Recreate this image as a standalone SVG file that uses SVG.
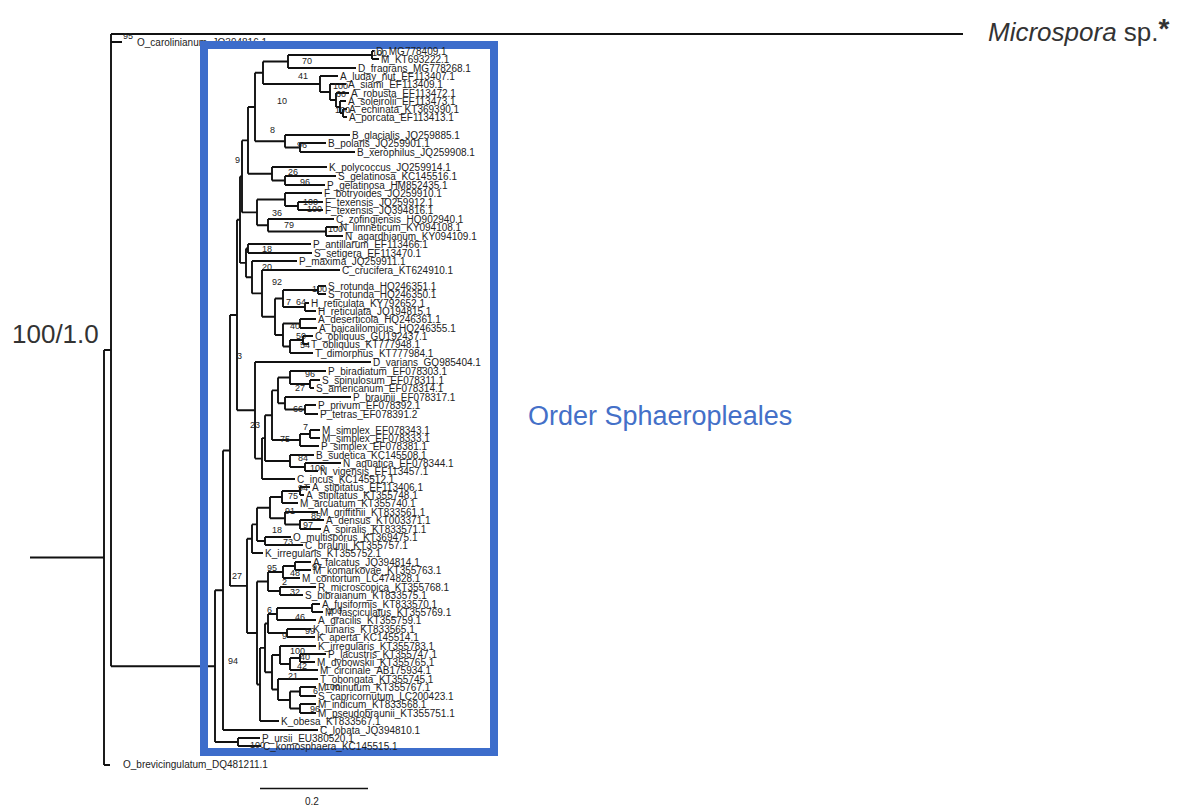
<svg xmlns="http://www.w3.org/2000/svg" width="1196" height="809" viewBox="0 0 1196 809">
<style>
.br{fill:none;stroke:#111;stroke-width:1.9}
.tx{font-family:"Liberation Sans",Arial,sans-serif;font-size:10px;fill:#222}
.bs{font-family:"Liberation Sans",Arial,sans-serif;font-size:9px;fill:#222}
.big{font-family:"Liberation Sans",Arial,sans-serif;fill:#333}
</style>
<rect width="1196" height="809" fill="#fff"/>
<g id="connectors" class="br">
<path d="M30,557.5H104M104,350V765M104,350H111M104,765H110M111,34V666.2M111,34H963M111,42H122M111,666.2H215"/>
<path d="M215,590.3V742M215,590.3H223M215,742H238M238,738V746M238,738H260M238,746H261"/>
<path d="M223,450.5V730M223,450.5H230M223,730H318M230,315V585.9M230,315H237M230,585.9H247"/>
<path d="M237,219.7V410.3M237,219.7H240M237,410.3H255M240,176.4V262.9M240,176.4H242M240,262.9H246"/>
<path d="M242,140.4V212.4M242,140.4H248M242,212.4H257M248,107V173.8M248,107H255M248,173.8H272"/>
<path d="M255,72.8V141.3M255,72.8H263M255,141.3H285M263,61.5V84M263,61.5H288M263,84H320"/>
<path d="M288,55V68M288,55H372M288,68H356M372,51V59M372,51H374M372,59H379"/>
<path d="M320,76V92M320,76H338M320,92H330M330,84V100M330,84H346M330,100H336M336,93V107M336,93H349M336,107H340M340,101V113M340,101H346M340,113H343M343,109V117M343,109H347M343,117H347"/>
<path d="M285,135V147.5M285,135H350M285,147.5H300M300,143V152M300,143H326M300,152H355"/>
<path d="M272,167V180.5M272,167H327M272,180.5H285M285,176V185M285,176H336M285,185H325"/>
<path d="M257,199.5V225.3M257,199.5H285M257,225.3H268M285,193V206M285,193H322M285,206H298M298,202V210M298,202H323M298,210H323"/>
<path d="M268,219V231.5M268,219H334M268,231.5H326M326,227V236M326,227H338M326,236H343"/>
<path d="M246,248.5V277.2M246,248.5H248M246,277.2H252M248,244V253M248,244H311M248,253H312M252,261V293.4M252,261H297M252,293.4H262"/>
<path d="M262,270V316.8M262,270H340M262,316.8H275M275,298.5V335M275,298.5H283M275,335H283"/>
<path d="M283,290V307M283,290H318M283,307H305M318,286V294M318,286H326M318,294H326M305,303V311M305,303H309M305,311H316"/>
<path d="M283,323.5V346.5M283,323.5H300M283,346.5H290M300,319V328M300,319H316M300,328H317M290,340V353M290,340H303M290,353H313M303,336V344M303,336H313M303,344H309"/>
<path d="M255,362V458.6M255,362H371M255,458.6H262M262,438.1V479M262,438.1H265M262,479H295M265,415.2V461M265,415.2H272M265,461H290"/>
<path d="M272,390.4V440M272,390.4H278M272,440H300M278,377.5V403.3M278,377.5H290M278,403.3H285"/>
<path d="M290,371V384M290,371H326M290,384H310M310,380V388M310,380H320M310,388H314M285,397V409.5M285,397H351M285,409.5H305M305,405V414M305,405H316M305,414H318"/>
<path d="M300,434V446M300,434H310M300,446H319M310,430V438M310,430H320M310,438H320"/>
<path d="M290,455V467M290,455H314M290,467H305M305,463V471M305,463H341M305,471H318"/>
<path d="M247,538.7V633M247,538.7H252M247,633H257M252,524.4V553M252,524.4H257M252,553H263M257,507.7V541M257,507.7H270M257,541H265"/>
<path d="M270,497V518.3M270,497H282M270,518.3H285M282,491V503M282,491H300M282,503H298M300,487V495M300,487H310M300,495H304"/>
<path d="M285,512V524.5M285,512H318M285,524.5H300M300,520V529M300,520H324M300,529H321M265,537V545M265,537H291M265,545H303"/>
<path d="M257,581.5V684.5M257,581.5H268M257,684.5H260M268,572V591M268,572H283M268,591H280M283,566V578M283,566H295M283,578H300M295,562V570M295,562H311M295,570H311M280,587V595M280,587H316M280,595H303"/>
<path d="M260,647.9V721M260,647.9H265M260,721H279M265,623.5V672.3M265,623.5H268M265,672.3H272"/>
<path d="M268,614V633M268,614H277M268,633H287M277,608V620M277,608H312M277,620H316M312,604V612M312,604H320M312,612H323M287,629V637M287,629H311M287,637H315"/>
<path d="M272,655V689.5M272,655H280M272,689.5H278M280,646V664M280,646H316M280,664H290M290,658V670M290,658H300M290,670H318M300,654V662M300,654H326M300,662H315"/>
<path d="M278,679V700M278,679H318M278,700H290M290,691.5V708.5M290,691.5H300M290,708.5H300M300,687V696M300,687H316M300,696H316M300,704V713M300,704H316M300,713H316"/>
</g>
<g id="outgroup">
<text class="bs" x="123" y="39" font-size="6">95</text>
<text class="tx" x="137" y="46" font-size="9">O_carolinianum_JQ394816.1</text>
<text class="tx" x="123" y="768" font-size="9">O_brevicingulatum_DQ481211.1</text>
</g>
<g id="microspora"><text class="big" x="988" y="41" font-size="26"><tspan font-style="italic">Microspora</tspan> sp.<tspan dy="-3" font-size="28" font-weight="bold">*</tspan></text></g>
<g id="support-root"><text class="big" x="12" y="343" font-size="26">100/1.0</text></g>
<g id="scale"><path d="M260,788.5H368" stroke="#111" stroke-width="1.4"/><text class="tx" x="305" y="805" font-size="12">0.2</text></g>
<g id="box"><rect x="204" y="45" width="290" height="707" fill="none" stroke="#3d6dcb" stroke-width="8"/></g>
<g id="order-label"><text x="528" y="425" font-family="Liberation Sans, Arial, sans-serif" font-size="27" fill="#4470c8">Order Sphaeropleales</text></g>
<g id="taxa" class="tx">
<g id="t1"><text x="376" y="54.5">D_MG778409.1</text></g>
<g id="t2"><text x="381" y="62.5">M_KT693222.1</text></g>
<g id="t3"><text x="358" y="71.5">D_fragrans_MG778268.1</text></g>
<g id="t4"><text x="340" y="79.5">A_luday_nut_EF113407.1</text></g>
<g id="t5"><text x="348" y="87.5">A_siami_EF113409.1</text></g>
<g id="t6"><text x="351" y="96.5">A_robusta_EF113472.1</text></g>
<g id="t7"><text x="348" y="104.5">A_soleirolii_EF113473.1</text></g>
<g id="t8"><text x="349" y="112.5">A_echinata_KT369390.1</text></g>
<g id="t9"><text x="349" y="120.5">A_porcata_EF113413.1</text></g>
<g id="t10"><text x="352" y="138.5">B_glacialis_JQ259885.1</text></g>
<g id="t11"><text x="328" y="146.5">B_polaris_JQ259901.1</text></g>
<g id="t12"><text x="357" y="155.5">B_xerophilus_JQ259908.1</text></g>
<g id="t13"><text x="329" y="170.5">K_polycoccus_JQ259914.1</text></g>
<g id="t14"><text x="338" y="179.5">S_gelatinosa_KC145516.1</text></g>
<g id="t15"><text x="327" y="188.5">P_gelatinosa_HM852435.1</text></g>
<g id="t16"><text x="324" y="196.5">F_botryoides_JQ259910.1</text></g>
<g id="t17"><text x="325" y="205.5">F_texensis_JQ259912.1</text></g>
<g id="t18"><text x="325" y="213.5">F_texensis_JQ394816.1</text></g>
<g id="t19"><text x="336" y="222.5">C_zofingiensis_HQ902940.1</text></g>
<g id="t20"><text x="340" y="230.5">N_limneticum_KY094108.1</text></g>
<g id="t21"><text x="345" y="239.5">N_agardhianum_KY094109.1</text></g>
<g id="t22"><text x="313" y="247.5">P_antillarum_EF113466.1</text></g>
<g id="t23"><text x="314" y="256.5">S_setigera_EF113470.1</text></g>
<g id="t24"><text x="299" y="264.5">P_maxima_JQ259911.1</text></g>
<g id="t25"><text x="342" y="273.5">C_crucifera_KT624910.1</text></g>
<g id="t26"><text x="328" y="289.5">S_rotunda_HQ246351.1</text></g>
<g id="t27"><text x="328" y="297.5">S_rotunda_HQ246350.1</text></g>
<g id="t28"><text x="311" y="306.5">H_reticulata_KY792652.1</text></g>
<g id="t29"><text x="318" y="314.5">H_reticulata_JQ194815.1</text></g>
<g id="t30"><text x="318" y="322.5">A_deserticola_HQ246361.1</text></g>
<g id="t31"><text x="319" y="331.5">A_baicalilomicus_HQ246355.1</text></g>
<g id="t32"><text x="315" y="339.5">C_obliquus_GU192437.1</text></g>
<g id="t33"><text x="311" y="347.5">T_obliquus_KT777948.1</text></g>
<g id="t34"><text x="315" y="356.5">T_dimorphus_KT777984.1</text></g>
<g id="t35"><text x="373" y="365.5">D_varians_GQ985404.1</text></g>
<g id="t36"><text x="328" y="374.5">P_biradiatum_EF078303.1</text></g>
<g id="t37"><text x="322" y="383.5">S_spinulosum_EF078311.1</text></g>
<g id="t38"><text x="316" y="391.5">S_americanum_EF078314.1</text></g>
<g id="t39"><text x="353" y="400.5">P_braunii_EF078317.1</text></g>
<g id="t40"><text x="318" y="408.5">P_privum_EF078392.1</text></g>
<g id="t41"><text x="320" y="417.5">P_tetras_EF078391.2</text></g>
<g id="t42"><text x="322" y="433.5">M_simplex_EF078343.1</text></g>
<g id="t43"><text x="322" y="441.5">M_simplex_EF078333.1</text></g>
<g id="t44"><text x="321" y="449.5">P_simplex_EF078381.1</text></g>
<g id="t45"><text x="316" y="458.5">B_sudetica_KC145508.1</text></g>
<g id="t46"><text x="343" y="466.5">N_aquatica_EF078344.1</text></g>
<g id="t47"><text x="320" y="474.5">N_vigensis_EF113457.1</text></g>
<g id="t48"><text x="297" y="482.5">C_incus_KC145512.1</text></g>
<g id="t49"><text x="312" y="490.5">A_stipitatus_EF113406.1</text></g>
<g id="t50"><text x="306" y="498.5">A_stipitatus_KT355748.1</text></g>
<g id="t51"><text x="300" y="506.5">M_arcuatum_KT355740.1</text></g>
<g id="t52"><text x="320" y="515.5">M_griffithii_KT833561.1</text></g>
<g id="t53"><text x="326" y="523.5">A_densus_KT003371.1</text></g>
<g id="t54"><text x="323" y="532.5">A_spiralis_KT833571.1</text></g>
<g id="t55"><text x="293" y="540.5">O_multisporus_KT369475.1</text></g>
<g id="t56"><text x="305" y="548.5">C_braunii_KT355757.1</text></g>
<g id="t57"><text x="265" y="556.5">K_irregularis_KT355752.1</text></g>
<g id="t58"><text x="313" y="565.5">A_falcatus_JQ394814.1</text></g>
<g id="t59"><text x="313" y="573.5">M_komarkovae_KT355763.1</text></g>
<g id="t60"><text x="302" y="581.5">M_contortum_LC474828.1</text></g>
<g id="t61"><text x="318" y="590.5">R_microscopica_KT355768.1</text></g>
<g id="t62"><text x="305" y="598.5">S_bibraianum_KT833575.1</text></g>
<g id="t63"><text x="322" y="607.5">A_fusiformis_KT833570.1</text></g>
<g id="t64"><text x="325" y="615.5">M_fasciculatus_KT355769.1</text></g>
<g id="t65"><text x="318" y="623.5">A_gracilis_KT355759.1</text></g>
<g id="t66"><text x="313" y="632.5">K_lunaris_KT833565.1</text></g>
<g id="t67"><text x="317" y="640.5">K_aperta_KC145514.1</text></g>
<g id="t68"><text x="318" y="649.5">K_irregularis_KT355783.1</text></g>
<g id="t69"><text x="328" y="657.5">P_lacustris_KT355747.1</text></g>
<g id="t70"><text x="317" y="665.5">M_dybowskii_KT355765.1</text></g>
<g id="t71"><text x="320" y="673.5">M_circinale_AB175934.1</text></g>
<g id="t72"><text x="320" y="682.5">T_obongata_KT355745.1</text></g>
<g id="t73"><text x="318" y="690.5">M_minutum_KT355767.1</text></g>
<g id="t74"><text x="318" y="699.5">S_capricornutum_LC200423.1</text></g>
<g id="t75"><text x="318" y="707.5">M_indicum_KT833568.1</text></g>
<g id="t76"><text x="318" y="716.5">M_pseudobraunii_KT355751.1</text></g>
<g id="t77"><text x="281" y="724.5">K_obesa_KT833567.1</text></g>
<g id="t78"><text x="320" y="733.5">C_lobata_JQ394810.1</text></g>
<g id="t79"><text x="262" y="741.5">P_ursii_EU380520.1</text></g>
<g id="t80"><text x="263" y="749.5">C_komosphaera_KC145515.1</text></g>
</g>
<g id="support" class="bs">
<text x="372" y="56">100</text><text x="302" y="64">70</text><text x="298" y="79">41</text><text x="333" y="89">100</text>
<text x="336" y="97">60</text><text x="335" y="113">100</text><text x="277" y="104">10</text><text x="270" y="133">8</text>
<text x="297" y="148">96</text><text x="235" y="163">9</text><text x="288" y="175">26</text><text x="300" y="185">96</text>
<text x="303" y="205">100</text><text x="307" y="212">100</text><text x="272" y="216">36</text><text x="284" y="228">79</text>
<text x="328" y="232">100</text><text x="262" y="252">18</text><text x="262" y="270">20</text><text x="272" y="285">92</text>
<text x="312" y="292">100</text><text x="296" y="305">64</text><text x="286" y="305">7</text><text x="290" y="329">40</text>
<text x="296" y="339">50</text><text x="300" y="348">54</text><text x="237" y="359">3</text><text x="305" y="377">96</text>
<text x="295" y="391">27</text><text x="293" y="412">66</text><text x="250" y="428">23</text><text x="303" y="430">7</text>
<text x="280" y="442">75</text><text x="298" y="461">84</text><text x="310" y="471">100</text><text x="298" y="491">94</text>
<text x="288" y="499">75</text><text x="285" y="514">91</text><text x="311" y="519">85</text><text x="272" y="533">18</text>
<text x="303" y="528">97</text><text x="283" y="545">73</text><text x="267" y="571">95</text><text x="312" y="570">97</text>
<text x="290" y="576">48</text><text x="282" y="585">2</text><text x="290" y="595">32</text><text x="267" y="613">6</text>
<text x="327" y="614">100</text><text x="295" y="620">46</text><text x="305" y="634">99</text><text x="282" y="639">9</text>
<text x="290" y="654">100</text><text x="300" y="660">40</text><text x="297" y="669">42</text><text x="288" y="679">21</text>
<text x="325" y="690">100</text><text x="313" y="694">6</text><text x="310" y="712">96</text><text x="232" y="579">27</text>
<text x="228" y="664">94</text><text x="250" y="748">100</text>
</g>
</svg>
